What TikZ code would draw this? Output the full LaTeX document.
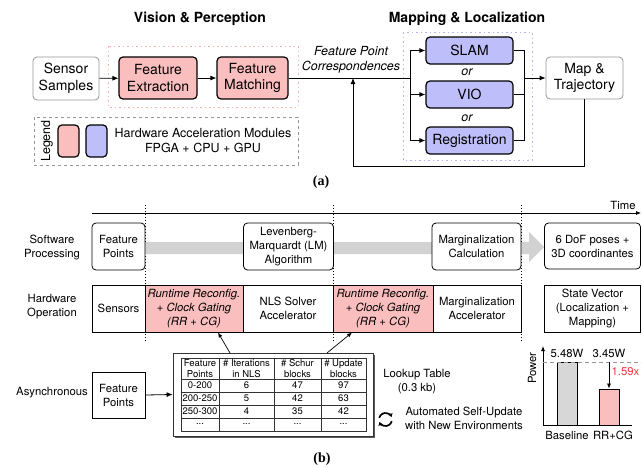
\documentclass[tikz,border=0pt]{standalone}
\usepackage{fontspec}
\setmainfont{TeX Gyre Heros}
\setsansfont{TeX Gyre Heros}
\newfontfamily\capfont{Liberation Serif}
\usetikzlibrary{arrows.meta,calc}
\definecolor{pinkfill}{RGB}{250,190,190}
\definecolor{bluefill}{RGB}{190,190,250}
\definecolor{pinkdot}{RGB}{246,178,178}
\definecolor{bluedot}{RGB}{180,180,250}
\definecolor{grayline}{RGB}{150,150,150}
\definecolor{band}{RGB}{210,210,210}
\definecolor{barfill}{RGB}{215,215,215}
\definecolor{redtxt}{RGB}{245,55,55}
\newcommand\szTop{\fontsize{14}{16.5}\selectfont}
\newcommand\szLeg{\fontsize{12.5}{15}\selectfont}
\newcommand\szBot{\fontsize{11.3}{14}\selectfont}
\newcommand\szTab{\fontsize{9.5}{10.5}\selectfont}
\begin{document}
\begin{tikzpicture}[x=1pt,y=-1pt,font=\sffamily,
  arr/.style={-{Latex[length=6pt,width=5pt]},line width=0.8pt},
  sarr/.style={-{Latex[length=5pt,width=4pt]},line width=0.7pt},
  graybox/.style={draw=grayline,line width=0.8pt,rounded corners=4pt,align=center,inner sep=0pt,font=\szTop},
  accbox/.style={draw=black,line width=1.2pt,rounded corners=4pt,align=center,inner sep=0pt,font=\szTop},
  swbox/.style={draw=black,fill=white,line width=0.8pt,rounded corners=4pt,align=center,inner sep=0pt,font=\szBot},
  hwbox/.style={draw=black,line width=0.8pt,align=center,inner sep=0pt,font=\szBot},
  rrbox/.style={hwbox,fill=pinkfill,font=\szBot\itshape},
  lbl/.style={align=center,inner sep=0pt,font=\szBot},
  vdot/.style={line width=0.8pt,dash pattern=on 1pt off 2pt}
]
\useasboundingbox (0,0) rectangle (642,466);

% ---------------- (a) ----------------
\node[font=\szTop\bfseries] (t1) at (200,19) {Vision \& Perception};
\node[font=\szTop\bfseries] (t2) at (467,19) {Mapping \& Localization};

\draw[pinkdot,line width=1pt,dash pattern=on 1.5pt off 3pt] (108,46) rectangle (298,107);
\draw[bluedot,line width=1pt,dash pattern=on 1.5pt off 3pt] (403,32) rectangle (532,160);

\node[graybox,minimum width=66pt,minimum height=43pt] (sens) at (66,78.5) {Sensor\\Samples};
\node[accbox,fill=pinkfill,minimum width=78pt,minimum height=42pt] (fe) at (158,78) {Feature\\Extraction};
\node[accbox,fill=pinkfill,minimum width=71pt,minimum height=42pt] (fm) at (252.5,78) {Feature\\Matching};
\draw[arr] (sens) -- (fe);
\draw[arr] (fe) -- (fm);

% legend
\draw[grayline,line width=0.8pt,dashed] (34,117) rectangle (298,165);
\node[rotate=90,font=\szLeg,inner sep=0pt] (legtxt) at (47,141) {Legend};
\node[draw=black,line width=1.2pt,fill=pinkfill,rounded corners=4pt,minimum width=21pt,minimum height=32pt,inner sep=0pt] (swp) at (68.5,141) {};
\node[draw=black,line width=1.2pt,fill=bluefill,rounded corners=4pt,minimum width=21pt,minimum height=32pt,inner sep=0pt] (swb) at (96.5,141) {};
\node[align=center,font=\szLeg,inner sep=0pt] (legdesc) at (203,141) {Hardware Acceleration Modules\\FPGA + CPU + GPU};

% mapping
\node[font=\szLeg\itshape,align=center,inner sep=0pt] (fpc) at (351,60) {Feature Point\\Correspondences};
\node[accbox,fill=bluefill,minimum width=87pt,minimum height=27pt] (slam) at (469.5,50.5) {SLAM};
\node[accbox,fill=bluefill,minimum width=87pt,minimum height=27pt] (vio) at (469.5,94.5) {VIO};
\node[accbox,fill=bluefill,minimum width=87pt,minimum height=27pt] (reg) at (469.5,140.5) {Registration};
\node[font=\szLeg\itshape,inner sep=0pt] (or1) at (467,72) {or};
\node[font=\szLeg\itshape,inner sep=0pt] (or2) at (467,118) {or};
\node[graybox,minimum width=77pt,minimum height=42pt] (map) at (584.5,78) {Map \&\\Trajectory};

\coordinate (split) at (410,78);
\coordinate (merge) at (524,78);
\coordinate (fb) at (353,78);
\coordinate (fbc) at (353,166);
\draw[line width=0.8pt] (fm.east) -- (split);
\draw[arr] (split) |- (slam.west);
\draw[arr] (split) |- (vio.west);
\draw[arr] (split) |- (reg.west);
\draw[line width=0.8pt] (slam.east) -| (merge);
\draw[line width=0.8pt] (vio.east) -| (merge);
\draw[line width=0.8pt] (reg.east) -| (merge);
\draw[arr] (merge) -- (map.west);
\draw[arr] (map.south) |- (fbc) -- (fb);

\node[font=\fontsize{14}{16}\selectfont\capfont\bfseries] (capa) at (321,182) {(a)};

% ---------------- (b) ----------------
\coordinate (ts) at (92,213);
\coordinate (te) at (641,213);
\draw[sarr] (ts) -- (te);
\node[lbl] (time) at (623,205) {Time};

\foreach \xx in {145,333,521} \draw[vdot] (\xx,205) -- (\xx,342);

% gray band with arrow head
\fill[band] (145,242) -- (529,242) -- (529,232) -- (544,247) -- (529,262) -- (529,254) -- (145,254) -- cycle;

\node[lbl] (rl1) at (52,248) {Software\\Processing};
\node[lbl] (rl2) at (52,307) {Hardware\\Operation};
\node[lbl] (rl3) at (52,393) {Asynchronous};

\node[swbox,minimum width=53pt,minimum height=47pt] (fp1) at (118.5,246.5) {Feature\\Points};
\node[swbox,minimum width=90pt,minimum height=47pt] (lm) at (288.5,246.5) {Levenberg-\\Marquardt (LM)\\Algorithm};
\node[swbox,minimum width=89pt,minimum height=47pt] (mc) at (476.5,246.5) {Marginalization\\Calculation};
\node[swbox,minimum width=96pt,minimum height=46pt] (dof) at (592.5,246) {6 DoF poses +\\3D coordinantes};

\node[hwbox,minimum width=53pt,minimum height=47pt] (sensors) at (118.5,308.5) {Sensors};
\node[rrbox,minimum width=98pt,minimum height=47pt] (rr1) at (194,308.5) {Runtime Reconfig.\\+ Clock Gating\\(RR + CG)};
\node[hwbox,minimum width=90pt,minimum height=47pt] (nls) at (288,308.5) {NLS Solver\\Accelerator};
\node[rrbox,minimum width=100pt,minimum height=47pt] (rr2) at (383,308.5) {Runtime Reconfig.\\+ Clock Gating\\(RR + CG)};
\node[hwbox,minimum width=88pt,minimum height=47pt] (ma) at (477,308.5) {Marginalization\\Accelerator};
\node[hwbox,minimum width=96pt,minimum height=47pt] (sv) at (592.5,308.5) {State Vector\\(Localization +\\Mapping)};
\foreach \xx in {145,333} \draw[vdot,line width=0.9pt] (\xx,285) -- (\xx,332);

% async row
\node[hwbox,minimum width=53pt,minimum height=46pt] (fp2) at (118.5,395) {Feature\\Points};
\fill[black!65] (174.5,354.5) rectangle (374.5,437.5);
\node[draw=black!80,fill=white,line width=0.8pt,minimum width=200pt,minimum height=83pt,inner sep=0pt] (lut) at (273,394.5) {};
\draw[arr] (fp2.east) -- (lut.west);

% table grid
\draw[line width=0.5pt,black!80] (181,358) rectangle (366,431);
\foreach \xx in {219,274,321} \draw[line width=0.5pt,black!80] (\xx,358) -- (\xx,431);
\foreach \yy in {379,392,405,418} \draw[line width=0.5pt,black!80] (181,\yy) -- (366,\yy);
\begin{scope}[every node/.style={font=\szTab,align=center,inner sep=0pt}]
\node (h1) at (200,368.5) {Feature\\Points};
\node (h2) at (246.5,368.5) {\# Iterations\\in NLS};
\node (h3) at (297.5,368.5) {\# Schur\\blocks};
\node (h4) at (343.5,368.5) {\# Update\\blocks};
\node (c11) at (200,385.5) {0-200};
\node (c12) at (246.5,385.5) {6};
\node (c13) at (297.5,385.5) {47};
\node (c14) at (343.5,385.5) {97};
\node (c21) at (200,398.5) {200-250};
\node (c22) at (246.5,398.5) {5};
\node (c23) at (297.5,398.5) {42};
\node (c24) at (343.5,398.5) {63};
\node (c31) at (200,411.5) {250-300};
\node (c32) at (246.5,411.5) {4};
\node (c33) at (297.5,411.5) {35};
\node (c34) at (343.5,411.5) {42};
\node (c41) at (200,423.5) {...};
\node (c42) at (246.5,423.5) {...};
\node (c43) at (297.5,423.5) {...};
\node (c44) at (343.5,423.5) {...};
\end{scope}

\coordinate (ls1) at (230,353);
\coordinate (ls2) at (327,353);
\coordinate (le1) at (218,332.5);
\coordinate (le2) at (352,332.5);
\draw[sarr] (ls1) -- (le1);
\draw[sarr] (ls2) -- (le2);

\node[lbl] (luttxt) at (417,381.5) {Lookup Table\\(0.3 kb)};
\begin{scope}[shift={(385.5,419.5)},yscale=-1]
\draw[line width=1.7pt,-{Latex[length=3.5pt,width=5pt]}] (165:6.5) arc (165:20:6.5);
\draw[line width=1.7pt,-{Latex[length=3.5pt,width=5pt]}] (-15:6.5) arc (-15:-160:6.5);
\end{scope}
\node[lbl] (auto) at (464,418.5) {Automated Self-Update\\with New Environments};

% power chart
\coordinate (org) at (543,425);
\coordinate (ytop) at (543,346);
\coordinate (xend) at (632,425);
\draw[line width=0.8pt] (org) -- (xend);
\draw[sarr,line width=0.8pt] (org) -- (ytop);
\node[lbl,rotate=90] (power) at (532,368) {Power};
\node[draw=black,fill=barfill,line width=0.8pt,minimum width=20pt,minimum height=63pt,inner sep=0pt] (b1) at (567,393.5) {};
\node[draw=black,fill=pinkfill,line width=0.8pt,minimum width=20pt,minimum height=36pt,inner sep=0pt] (b2) at (609,407) {};
\coordinate (dl1) at (543,362);
\coordinate (dl2) at (641,362);
\draw[grayline,line width=0.8pt,dash pattern=on 4pt off 3pt] (dl1) -- (dl2);
\coordinate (pa) at (609,362);
\draw[sarr] (pa) -- (b2.north);
\node[lbl] (v1) at (567,353) {5.48W};
\node[lbl] (v2) at (609,353) {3.45W};
\node[lbl,text=redtxt] (ratio) at (625.5,372) {1.59x};
\node[lbl] (bl1) at (567,435) {Baseline};
\node[lbl] (bl2) at (613,435) {RR+CG};

\node[font=\fontsize{14}{16}\selectfont\capfont\bfseries] (capb) at (322,459) {(b)};
\end{tikzpicture}
\end{document}
